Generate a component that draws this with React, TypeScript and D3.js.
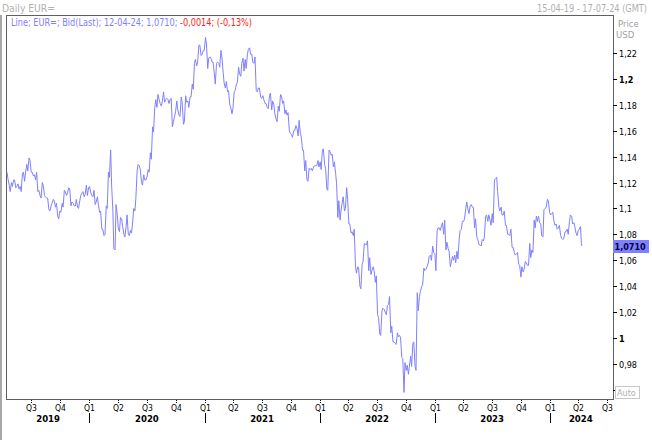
import React from "react";
import * as d3 from "d3";

// EUR= bid, Monday value of each week from 2019-04-15
const MONDAY_VALUES: number[] = [
  1.128, 1.118, 1.120, 1.122, 1.116, 1.119, 1.117, 1.127, 1.121, 1.134,
  1.139, 1.128, 1.125, 1.122, 1.113, 1.110, 1.120, 1.110, 1.108, 1.099,
  1.102, 1.107, 1.101, 1.094, 1.098, 1.104, 1.114, 1.110, 1.116, 1.102,
  1.104, 1.102, 1.101, 1.106, 1.112, 1.109, 1.118, 1.116, 1.112, 1.109,
  1.103, 1.109, 1.097, 1.084, 1.079, 1.102, 1.128, 1.145, 1.098, 1.068,
  1.095, 1.082, 1.092, 1.080, 1.086, 1.080, 1.083, 1.090, 1.098, 1.129,
  1.133, 1.120, 1.126, 1.122, 1.130, 1.143, 1.163, 1.178, 1.178, 1.184,
  1.179, 1.190, 1.184, 1.184, 1.184, 1.163, 1.171, 1.183, 1.172, 1.186,
  1.165, 1.187, 1.183, 1.186, 1.196, 1.212, 1.210, 1.226, 1.218, 1.222,
  1.232, 1.208, 1.217, 1.213, 1.204, 1.212, 1.212, 1.222, 1.205, 1.193,
  1.190, 1.180, 1.173, 1.190, 1.196, 1.209, 1.202, 1.216, 1.215, 1.219,
  1.224, 1.219, 1.212, 1.191, 1.193, 1.186, 1.187, 1.181, 1.178, 1.187,
  1.176, 1.180, 1.169, 1.179, 1.188, 1.181, 1.173, 1.172, 1.160, 1.157,
  1.160, 1.164, 1.156, 1.158, 1.145, 1.129, 1.122, 1.131, 1.131, 1.132,
  1.133, 1.137, 1.136, 1.145, 1.134, 1.115, 1.145, 1.141, 1.132, 1.127,
  1.093, 1.091, 1.105, 1.098, 1.116, 1.088, 1.081, 1.079, 1.055, 1.055,
  1.040, 1.057, 1.073, 1.072, 1.052, 1.049, 1.055, 1.043, 1.018, 1.003,
  1.021, 1.022, 1.018, 1.026, 1.004, 0.997, 0.996, 1.004, 1.002, 0.985,
  0.958, 0.975, 0.972, 0.986, 0.996, 0.978, 1.035, 1.032, 1.040, 1.054,
  1.053, 1.058, 1.064, 1.071, 1.065, 1.083, 1.085, 1.087, 1.080, 1.068,
  1.069, 1.055, 1.063, 1.064, 1.067, 1.076, 1.084, 1.090, 1.100, 1.099,
  1.102, 1.101, 1.085, 1.078, 1.072, 1.071, 1.075, 1.094, 1.090, 1.091,
  1.096, 1.122, 1.124, 1.101, 1.101, 1.095, 1.087, 1.080, 1.079, 1.070,
  1.066, 1.065, 1.057, 1.047, 1.051, 1.059, 1.056, 1.073, 1.068, 1.091,
  1.094, 1.094, 1.088, 1.078, 1.100, 1.107, 1.097, 1.096, 1.090, 1.088,
  1.085, 1.079, 1.076, 1.082, 1.084, 1.090, 1.094, 1.089, 1.081, 1.083,
  1.086,
];

// EUR= bid, Thursday value of each week
const THURSDAY_VALUES: number[] = [
  1.123, 1.113, 1.117, 1.122, 1.117, 1.115, 1.113, 1.128, 1.128, 1.129,
  1.137, 1.128, 1.126, 1.128, 1.114, 1.108, 1.118, 1.109, 1.108, 1.098,
  1.104, 1.106, 1.104, 1.092, 1.097, 1.101, 1.113, 1.112, 1.115, 1.105,
  1.102, 1.107, 1.100, 1.110, 1.113, 1.111, 1.110, 1.117, 1.110, 1.114,
  1.105, 1.103, 1.098, 1.084, 1.080, 1.100, 1.124, 1.118, 1.069, 1.103,
  1.085, 1.093, 1.086, 1.078, 1.095, 1.079, 1.081, 1.100, 1.108, 1.134,
  1.130, 1.118, 1.122, 1.124, 1.128, 1.138, 1.159, 1.184, 1.188, 1.181,
  1.183, 1.182, 1.185, 1.181, 1.185, 1.167, 1.175, 1.176, 1.171, 1.182,
  1.167, 1.182, 1.178, 1.186, 1.192, 1.215, 1.213, 1.226, 1.219, 1.222,
  1.227, 1.216, 1.216, 1.213, 1.196, 1.213, 1.209, 1.217, 1.197, 1.198,
  1.191, 1.178, 1.177, 1.191, 1.197, 1.204, 1.212, 1.206, 1.208, 1.223,
  1.219, 1.213, 1.217, 1.190, 1.193, 1.185, 1.184, 1.181, 1.177, 1.189,
  1.183, 1.173, 1.167, 1.175, 1.187, 1.183, 1.176, 1.174, 1.158, 1.155,
  1.160, 1.162, 1.168, 1.155, 1.145, 1.137, 1.121, 1.130, 1.129, 1.133,
  1.133, 1.132, 1.130, 1.146, 1.131, 1.114, 1.144, 1.142, 1.136, 1.119,
  1.106, 1.098, 1.109, 1.100, 1.107, 1.088, 1.082, 1.084, 1.050, 1.054,
  1.038, 1.059, 1.072, 1.075, 1.062, 1.052, 1.052, 1.048, 1.016, 1.002,
  1.023, 1.020, 1.025, 1.032, 1.009, 0.997, 0.995, 1.001, 1.000, 0.984,
  0.981, 0.979, 0.978, 0.978, 0.997, 0.975, 1.021, 1.036, 1.041, 1.052,
  1.055, 1.063, 1.060, 1.066, 1.052, 1.085, 1.083, 1.089, 1.091, 1.074,
  1.067, 1.059, 1.060, 1.058, 1.061, 1.083, 1.090, 1.092, 1.105, 1.096,
  1.103, 1.101, 1.092, 1.076, 1.072, 1.076, 1.078, 1.095, 1.095, 1.087,
  1.089, 1.123, 1.113, 1.098, 1.095, 1.098, 1.087, 1.080, 1.084, 1.070,
  1.064, 1.066, 1.056, 1.055, 1.053, 1.058, 1.056, 1.062, 1.066, 1.085,
  1.090, 1.089, 1.079, 1.099, 1.101, 1.106, 1.095, 1.097, 1.087, 1.084,
  1.087, 1.077, 1.077, 1.082, 1.080, 1.095, 1.088, 1.086, 1.079, 1.084,
  1.073,
];

const FIRST_DATE = new Date(2019, 3, 15);
const LAST_QUOTE_DATE = new Date(2024, 3, 12);
const LAST_VALUE = 1.071;
const DOMAIN_END = new Date(2024, 6, 17);

const Y_TICKS: number[] = [0.96, 0.98, 1.0, 1.02, 1.04, 1.06, 1.08, 1.1, 1.12, 1.14, 1.16, 1.18, 1.2, 1.22];
const Y_LABELS: string[] = ["", "0,98", "1", "1,02", "1,04", "1,06", "1,08", "1,1", "1,12", "1,14", "1,16", "1,18", "1,2", "1,22"];
const BOLD_TICKS: number[] = [1.0, 1.2];

const QUARTERS: string[] = ["Q1", "Q2", "Q3", "Q4"];
const YEARS: number[] = [2019, 2020, 2021, 2022, 2023, 2024];

const HEADER_LEFT = "Daily EUR=";
const HEADER_RANGE = "15-04-19 - 17-07-24 (GMT)";
const LEGEND_MAIN = "Line; EUR=; Bid(Last); 12-04-24; 1,0710; ";
const LEGEND_CHANGE = "-0,0014; (-0,13%)";
const LAST_LABEL = "1,0710";

const FONT = "'DejaVu Sans Condensed', 'DejaVu Sans', sans-serif";
const LINE_COLOR = "#8080ff";

type Pt = { d: Date; v: number };

export default function App() {
  const W = 652, H = 440;
  const left = 6.5, top = 15.5, right = 613.5, bottom = 399.5;

  const data: Pt[] = [];
  MONDAY_VALUES.forEach((v, i) => {
    const mon = d3.timeDay.offset(FIRST_DATE, 7 * i);
    data.push({ d: mon, v });
    data.push({ d: d3.timeDay.offset(mon, 3), v: THURSDAY_VALUES[i] });
  });
  data.push({ d: LAST_QUOTE_DATE, v: LAST_VALUE });

  const x = d3.scaleTime().domain([FIRST_DATE, DOMAIN_END]).range([7, 612]);
  const y = d3.scaleLinear().domain([1.0, 1.22]).range([338, 53]);

  const line = d3
    .line<Pt>()
    .x((p) => x(p.d))
    .y((p) => y(p.v));

  const quarterStarts = d3.timeMonth
    .every(3)!
    .range(d3.timeMonth.ceil(FIRST_DATE), DOMAIN_END);
  const yearStarts = d3.timeYear.range(d3.timeYear.ceil(FIRST_DATE), DOMAIN_END);

  return (
    <svg
      width={W}
      height={H}
      style={{ position: "absolute", left: 0, top: 0, background: "#fff" }}
      fontFamily={FONT}
    >
      <rect x={0} y={0} width={W} height={H} fill="#fff" />
      <rect x={0} y={15} width={2} height={H - 15} fill="#a8a8a8" />

      {/* header */}
      <text x={2} y={12} fontSize={10} fill="#b0b0b0" textLength={53} lengthAdjust="spacingAndGlyphs">
        {HEADER_LEFT}
      </text>
      <text x={647} y={12} fontSize={10} fill="#b0b0b0" textAnchor="end" textLength={110} lengthAdjust="spacingAndGlyphs">
        {HEADER_RANGE}
      </text>

      {/* plot frame */}
      <rect x={left} y={top} width={right - left} height={bottom - top} fill="#fff" stroke="#606060" strokeWidth={1} />

      {/* legend */}
      <text x={11} y={26} fontSize={10} textLength={241} lengthAdjust="spacingAndGlyphs">
        <tspan fill="#8080ff">{LEGEND_MAIN}</tspan>
        <tspan fill="#ff2020">{LEGEND_CHANGE}</tspan>
      </text>

      {/* price line */}
      <path d={line(data) || ""} fill="none" stroke={LINE_COLOR} strokeWidth={1} />

      {/* right axis */}
      <text x={618} y={27} fontSize={9.5} fill="#a0a0a0">Price</text>
      <text x={616} y={38} fontSize={9.5} fill="#a0a0a0">USD</text>
      {Y_TICKS.map((t, i) => (
        <g key={t}>
          <line x1={613} x2={617} y1={Math.round(y(t)) + 0.5} y2={Math.round(y(t)) + 0.5} stroke="#000" />
          {Y_LABELS[i] && (
            <text
              x={619}
              y={Math.round(y(t)) + 4}
              fontSize={9}
              fill="#000"
              fontWeight={BOLD_TICKS.some((b) => Math.abs(b - t) < 1e-9) ? "bold" : "normal"}
            >
              {Y_LABELS[i]}
            </text>
          )}
        </g>
      ))}
      <rect x={613} y={Math.round(y(LAST_VALUE)) - 6} width={36} height={13} fill="#8080ff" />
      <text x={614.5} y={Math.round(y(LAST_VALUE)) + 4} fontSize={9} fontWeight="bold" fill="#000040">
        {LAST_LABEL}
      </text>
      <rect x={615.5} y={386.5} width={24} height={12} fill="#fff" stroke="#c8c8c8" />
      <text x={617} y={396} fontSize={9} fill="#b0b0b0">Auto</text>

      {/* bottom axis */}
      {quarterStarts.map((q) => {
        const xx = Math.round(x(q)) + 0.5;
        return (
          <g key={+q}>
            <line x1={xx} x2={xx} y1={400} y2={403} stroke="#000" strokeDasharray="1,1" />
            <text x={xx} y={411} fontSize={8.5} fill="#000" textAnchor="middle">
              {QUARTERS[Math.floor(q.getMonth() / 3)]}
            </text>
          </g>
        );
      })}
      {yearStarts.map((ys) => {
        const xx = Math.round(x(ys)) + 0.5;
        return <line key={+ys} x1={xx} x2={xx} y1={413} y2={423} stroke="#000" />;
      })}
      {YEARS.map((yr) => {
        const a = Math.max(+FIRST_DATE, +new Date(yr, 0, 1));
        const b = Math.min(+DOMAIN_END, +new Date(yr + 1, 0, 1));
        const cx = (x(new Date(a)) + x(new Date(b))) / 2;
        return (
          <text key={yr} x={cx} y={422} fontSize={9.5} fontWeight="bold" fill="#000" textAnchor="middle">
            {yr}
          </text>
        );
      })}
    </svg>
  );
}
